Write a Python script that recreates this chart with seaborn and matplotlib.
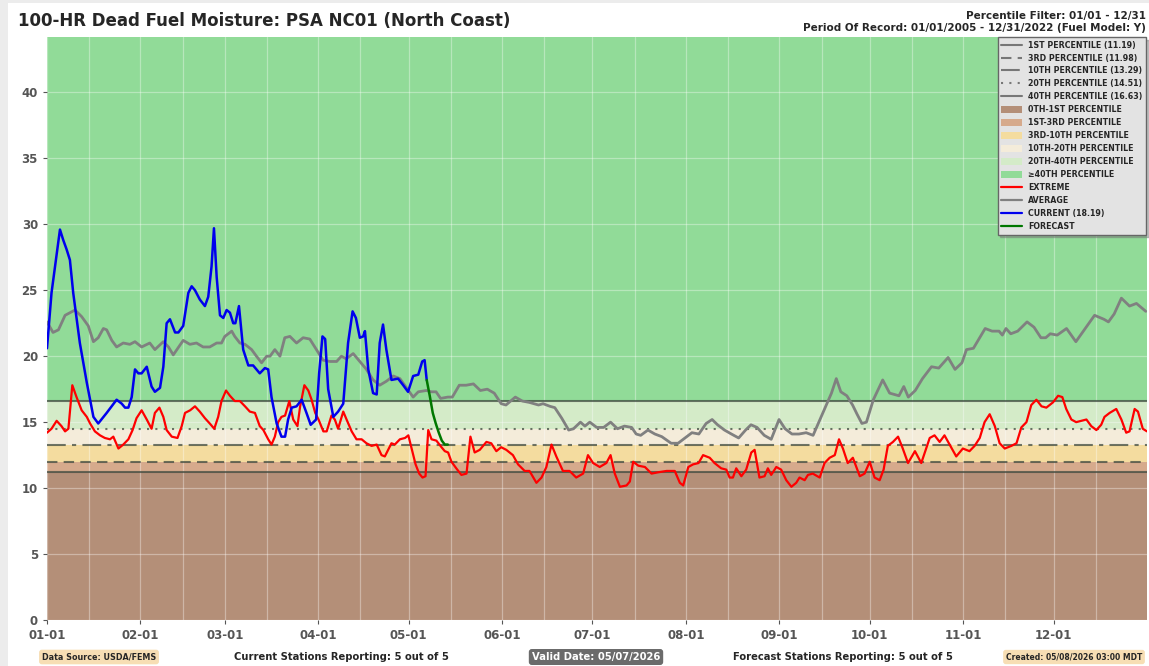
import matplotlib
matplotlib.use("Agg")
import matplotlib.pyplot as plt
from matplotlib.lines import Line2D
from matplotlib.patches import Patch, Rectangle
import seaborn as sns

# percentile thresholds (legend values)
pct_names = ["1ST", "3RD", "10TH", "20TH", "40TH"]
pct_vals = [11.19, 11.98, 13.29, 14.51, 16.63]

month_starts = [0, 31, 59, 90, 120, 151, 181, 212, 243, 273, 304, 334]
month_labels = ["01-01", "02-01", "03-01", "04-01", "05-01", "06-01",
                "07-01", "08-01", "09-01", "10-01", "11-01", "12-01"]

# average (gray)
avg_day = [0, 2, 3.8, 6, 9.3, 11.5, 13.7, 15.4, 17, 18.7, 19.8, 21.5, 23.1, 25.3, 27.5, 29.2,
           31.4, 34.1, 35.8, 38.6, 40.3, 41.9, 45.2, 47.4, 49.6, 51.8, 54, 56.3, 57.9, 59,
           61.3, 62.3, 64, 65.7, 67.9, 69.5, 71.2, 72.9, 74, 75.6, 77.3, 78.9, 80.6, 82.8,
           85, 87.2, 89.4, 91.6, 93.9, 96.1, 97.7, 99.3, 101.6, 103.8, 106, 108.2, 110.4,
           112.6, 114.9, 117.1, 119.3, 121.5, 123.2, 125.9, 127.5, 129.1, 130.6, 133, 134.5,
           136.8, 139.1, 141.5, 143.8, 146.1, 148.4, 150.7, 152.3, 155.4, 157.7, 160, 163.1,
           164.6, 166.9, 168.5, 170.8, 173.1, 174.7, 177, 178.5, 180.1, 182.4, 184.7, 187,
           189.3, 191.6, 194, 195.5, 197, 199.4, 201.7, 204, 207.1, 209.4, 211.7, 214, 216.3,
           218.7, 220.7, 222.5, 224.8, 227.1, 229.5, 231.8, 233.6, 235.6, 238, 240.3, 242.9,
           244.9, 247.2, 249.5, 251.9, 254.2, 256.5, 258.8, 260.3, 261.9, 263.4, 265.4, 267.3,
           268.8, 270.4, 271.9, 274.2, 277.3, 279.6, 282.7, 284.3, 285.8, 288.1, 290.5, 293.5,
           295.9, 299, 301.3, 303.6, 305.1, 307.4, 311.3, 313.6, 315.9, 317, 318.2, 319.8,
           322.1, 325.2, 327.5, 329.8, 331.4, 332.9, 335.2, 338.3, 341.4, 344.5, 347.6, 350.7,
           352.2, 354.1, 356.5, 359.2, 361.5, 364.6]
avg_val = [22.6, 21.8, 22.0, 23.1, 23.5, 23.0, 22.3, 21.1, 21.4, 22.1, 22.0, 21.2, 20.7, 21.0,
           20.9, 21.1, 20.7, 21.0, 20.5, 21.1, 20.7, 20.1, 21.2, 20.9, 21.0, 20.7, 20.7, 21.0,
           21.0, 21.5, 21.9, 21.5, 21.0, 20.9, 20.5, 20.0, 19.5, 20.0, 20.0, 20.5, 20.0, 21.4,
           21.5, 21.0, 21.4, 21.3, 20.5, 19.7, 19.6, 19.6, 20.0, 19.8, 20.2, 19.6, 19.0, 18.2,
           17.8, 18.1, 18.5, 18.3, 17.6, 16.9, 17.3, 17.4, 17.3, 17.3, 16.8, 16.9, 16.9, 17.8,
           17.8, 17.9, 17.4, 17.5, 17.2, 16.4, 16.3, 16.9, 16.6, 16.5, 16.3, 16.4, 16.2, 16.1,
           15.3, 14.4, 14.5, 15.0, 14.7, 15.0, 14.6, 14.6, 15.0, 14.5, 14.7, 14.6, 14.1, 14.0,
           14.4, 14.1, 13.9, 13.4, 13.4, 13.8, 14.2, 14.1, 14.9, 15.2, 14.8, 14.4, 14.1, 13.8,
           14.4, 14.8, 14.6, 14.0, 13.7, 15.2, 14.5, 14.1, 14.1, 14.2, 14.0, 15.2, 16.4, 17.2,
           18.3, 17.3, 17.0, 16.3, 15.6, 14.9, 15.0, 16.7, 18.2, 17.2, 17.0, 17.7, 16.9, 17.4,
           18.3, 19.2, 19.1, 19.9, 19.0, 19.5, 20.5, 20.6, 22.1, 21.9, 21.9, 21.6, 22.1, 21.7,
           21.9, 22.6, 22.2, 21.4, 21.4, 21.7, 21.6, 22.1, 21.1, 22.1, 23.1, 22.8, 22.6, 23.2,
           24.4, 23.8, 24.0, 23.4]

# extreme (red)
ext_day = [0, 1.5, 3.2, 4.8, 6, 7.1, 8.4, 9.8, 11.5, 13.2, 14.3, 15.9, 17.6, 19.2, 20.9, 22,
           23.7, 25.3, 27, 28.4, 29.7, 31.4, 33.1, 34.7, 35.8, 37.3, 38.6, 39.7, 41.4, 43.3,
           44.7, 45.8, 47.5, 49.1, 50.7, 52.4, 54, 55.5, 56.8, 57.9, 59.4, 60.7, 62.3, 64,
           65.7, 67.3, 69, 70.6, 71.8, 73.4, 74.5, 75.6, 76.7, 77.8, 79, 80.4, 81.7, 83.1, 84,
           85.4, 86.7, 87.8, 89, 90.1, 91.7, 92.8, 94.4, 95.5, 96.6, 98.3, 99.4, 101.1, 102.7,
           104.4, 106, 107.7, 109.4, 111, 112.1, 113.2, 114.3, 115.4, 117.1, 118.8, 119.9, 121,
           122.3, 123.5, 124.6, 125.6, 126.5, 127.6, 129.2, 130.9, 132, 133.1, 134.2, 135.8,
           137.5, 139.2, 140.5, 141.9, 143.6, 145.8, 147.4, 149.1, 150.7, 152.4, 154.6, 156.3,
           158.5, 160.1, 162.4, 164.1, 165.7, 167.4, 169, 171.2, 173.4, 175.6, 177.9, 179.5,
           181.2, 183.4, 185.6, 187, 188.4, 190.1, 192.3, 193.4, 194.5, 196.2, 198.4, 200.6,
           202.8, 205.6, 208.3, 210, 211.1, 212.8, 214.4, 216.2, 217.7, 219.9, 221.5, 223.7,
           225.4, 226.5, 227.6, 228.7, 230.4, 232, 233.7, 234.8, 236.4, 238.1, 239.2, 240.3,
           242, 243.6, 245.3, 247, 248.6, 249.7, 251.4, 252.5, 254.1, 256.4, 258, 259.7, 261.4,
           262.8, 264.1, 265.7, 267.4, 269.7, 271.3, 273, 274.6, 276.3, 277.6, 279, 280.7,
           282.4, 283.8, 285.7, 288, 290.1, 292.9, 294.5, 296.2, 297.8, 299.5, 301.7, 303.9,
           306.1, 307.8, 309.5, 311.1, 312.8, 314.5, 316.1, 317.8, 320, 321.7, 323.3, 325,
           326.6, 328.3, 330, 331.6, 333.8, 335.5, 336.9, 338.2, 339.9, 341.5, 343.2, 344.9,
           346.5, 348.2, 349.8, 350.9, 352.6, 354.8, 356.5, 358.1, 359.2, 360.9, 362, 363.6,
           365]
ext_val = [14.2, 14.5, 15.1, 14.7, 14.3, 14.5, 17.8, 16.9, 15.9, 15.4, 14.9, 14.3, 14.0, 13.8,
           13.7, 13.9, 13.0, 13.3, 13.7, 14.4, 15.3, 15.9, 15.2, 14.5, 15.7, 16.1, 15.4, 14.4,
           13.9, 13.8, 14.7, 15.7, 15.9, 16.2, 15.8, 15.3, 14.9, 14.5, 15.4, 16.6, 17.4, 17.0,
           16.6, 16.6, 16.2, 15.8, 15.7, 14.7, 14.4, 13.7, 13.3, 13.9, 15.0, 15.4, 15.5, 16.6,
           15.2, 14.7, 16.2, 17.8, 17.4, 16.7, 15.7, 15.2, 14.3, 14.3, 15.5, 15.2, 14.5, 15.8,
           15.2, 14.3, 13.7, 13.7, 13.4, 13.2, 13.3, 12.5, 12.4, 12.9, 13.4, 13.3, 13.7, 13.8,
           14.0, 13.0, 11.8, 11.1, 10.8, 10.9, 14.4, 13.7, 13.6, 13.1, 12.8, 12.7, 12.0, 11.5,
           11.0, 11.1, 13.9, 12.7, 12.9, 13.5, 13.4, 12.8, 13.1, 12.9, 12.5, 11.8, 11.3, 11.3,
           10.4, 10.8, 11.6, 13.3, 12.4, 11.3, 11.3, 10.8, 11.1, 12.5, 11.9, 11.6, 11.9, 12.5,
           11.1, 10.1, 10.2, 10.5, 12.0, 11.7, 11.6, 11.1, 11.2, 11.3, 11.3, 10.4, 10.2, 11.6,
           11.8, 11.9, 12.5, 12.3, 11.9, 11.5, 11.4, 10.8, 10.8, 11.5, 10.9, 11.4, 12.7, 12.9,
           10.8, 10.9, 11.5, 11.0, 11.6, 11.4, 10.6, 10.1, 10.4, 10.8, 10.6, 11.0, 11.1, 10.8,
           11.9, 12.3, 12.5, 13.7, 13.0, 11.9, 12.3, 10.9, 11.1, 12.0, 10.8, 10.6, 11.4, 13.2,
           13.5, 13.9, 13.1, 11.9, 12.8, 11.9, 13.8, 14.0, 13.5, 14.0, 13.3, 12.4, 13.0, 12.8,
           13.2, 13.8, 15.0, 15.6, 14.7, 13.4, 13.0, 13.2, 13.4, 14.6, 15.0, 16.3, 16.7, 16.2,
           16.1, 16.5, 17.0, 16.9, 16.0, 15.2, 15.0, 15.1, 15.2, 14.7, 14.4, 14.8, 15.4, 15.7,
           16.0, 15.2, 14.2, 14.3, 16.0, 15.8, 14.5, 14.3]

# current (blue)
cur_day = [0, 1.5, 4.3, 5.4, 6.5, 7.6, 8.7, 10.9, 13.2, 15.4, 17, 19.8, 23.1, 24.8, 25.9, 27,
           28.1, 29.2, 30.3, 31.4, 33.1, 34.7, 35.8, 37.5, 38.6, 39.7, 40.8, 42.5, 43.6, 45.2,
           46.9, 48, 49.1, 50.7, 52.4, 53.5, 54.6, 55.4, 56.3, 57.4, 58.5, 59.6, 60.7, 61.8,
           62.5, 63.7, 65.1, 66.8, 68.4, 69.5, 70.6, 72.3, 73.4, 74.5, 76.2, 77.8, 79, 80,
           81.2, 82.8, 84.5, 86.1, 87.5, 89.3, 90.3, 91.4, 92.3, 93.3, 95, 96.6, 98.3, 99.9,
           101.4, 102.5, 103.8, 104.9, 105.5, 106.6, 108.2, 109.4, 110.4, 111.5, 112.6, 114.3,
           116.5, 118.2, 119.8, 121.5, 123.2, 124.5, 125.3, 126]
cur_val = [20.6, 24.8, 29.6, 28.8, 28.1, 27.3, 24.8, 21.0, 18.0, 15.4, 14.9, 15.7, 16.7, 16.4,
           16.1, 16.1, 16.9, 19.0, 18.7, 18.7, 19.2, 17.7, 17.3, 17.6, 19.2, 22.5, 22.8, 21.8,
           21.8, 22.3, 24.8, 25.3, 25.0, 24.3, 23.8, 24.5, 26.8, 29.7, 26.0, 23.1, 22.9, 23.5,
           23.3, 22.5, 22.5, 23.8, 20.5, 19.3, 19.3, 19.0, 18.7, 19.1, 19.0, 16.9, 14.9, 13.9,
           13.9, 15.2, 16.1, 16.2, 16.7, 15.7, 14.8, 15.2, 18.7, 21.5, 21.3, 17.5, 15.4, 15.8,
           16.4, 21.0, 23.4, 22.9, 21.4, 21.5, 21.9, 19.0, 17.2, 17.1, 21.0, 22.4, 20.5, 18.2,
           18.3, 17.8, 17.3, 18.5, 18.6, 19.6, 19.7, 18.19]

# forecast (green)
fc_day = [126, 127, 128, 129, 130, 131, 132, 133]
fc_val = [18.19, 17.0, 15.7, 14.9, 14.2, 13.6, 13.3, 13.3]

band_colors = ["#b48f78", "#d6aa8c", "#f4dc9f", "#f4ecda", "#d4ebc8", "#91db98"]
band_labels = ["0TH-1ST PERCENTILE", "1ST-3RD PERCENTILE", "3RD-10TH PERCENTILE",
               "10TH-20TH PERCENTILE", "20TH-40TH PERCENTILE", "\u226540TH PERCENTILE"]
pct_styles = ["-", (0, (5, 3)), (0, (9, 3, 2, 3)), (0, (1, 3)), "-"]

sns.set_style("ticks")
plt.rcParams["font.family"] = ["DejaVu Sans"]

YMAX = 44.2
fig = plt.figure(figsize=(11.49, 6.66), dpi=100, facecolor="#ececec")
fig.patches.append(Rectangle((8 / 1149, 0), 1, 663 / 666, transform=fig.transFigure,
                             facecolor="white", edgecolor="none", zorder=-10))
ax = fig.add_axes([47 / 1149, 1 - 620 / 666, 1100 / 1149, (620 - 37) / 666])

# bands
edges = [0] + pct_vals + [YMAX]
for i, c in enumerate(band_colors):
    ax.axhspan(edges[i], edges[i + 1], color=c, lw=0, zorder=0.5)

ax.set_axisbelow("line")
ax.set_xticks(month_starts)
ax.set_xticks([m + 14 for m in month_starts], minor=True)
ax.grid(True, which="both", axis="x", color="white", alpha=0.35, lw=0.9)
ax.grid(True, which="major", axis="y", color="white", alpha=0.35, lw=0.9)

for v, ls in zip(pct_vals, pct_styles):
    ax.axhline(v, color="#3f4a3f", alpha=0.75, lw=1.5, ls=ls, zorder=2)

sns.lineplot(x=avg_day, y=avg_val, color="#808080", lw=2, ax=ax, sort=False, estimator=None, zorder=3)
sns.lineplot(x=ext_day, y=ext_val, color="#ff0000", lw=1.6, ax=ax, sort=False, estimator=None, zorder=4)
sns.lineplot(x=cur_day, y=cur_val, color="#0000ee", lw=1.8, ax=ax, sort=False, estimator=None, zorder=5)
sns.lineplot(x=fc_day, y=fc_val, color="#007700", lw=1.8, ax=ax, sort=False, estimator=None, zorder=5)

ax.set_xlim(0, 365)
ax.set_ylim(0, YMAX)
ax.set_yticks(range(0, 45, 5))
ax.set_xticklabels(month_labels)
ax.tick_params(axis="both", which="major", labelsize=8.5, labelcolor="#555555", length=3,
               color="#555555")
ax.tick_params(axis="x", which="minor", length=0)
for lab in ax.get_xticklabels() + ax.get_yticklabels():
    lab.set_fontweight("bold")
for s in ax.spines.values():
    s.set_visible(False)

# legend
handles = []
for n, v, ls in zip(pct_names, pct_vals, pct_styles):
    handles.append(Line2D([], [], color="#777777", lw=1.5, ls=ls, label=f"{n} PERCENTILE ({v:.2f})"))
for c, l in zip(band_colors, band_labels):
    handles.append(Patch(facecolor=c, edgecolor="none", label=l))
handles += [Line2D([], [], color="#ff0000", lw=1.6, label="EXTREME"),
            Line2D([], [], color="#808080", lw=1.6, label="AVERAGE"),
            Line2D([], [], color="#0000ee", lw=1.6, label=f"CURRENT ({cur_val[-1]:.2f})"),
            Line2D([], [], color="#007700", lw=1.6, label="FORECAST")]
leg = ax.legend(handles=handles, loc="upper right", bbox_to_anchor=(0.999, 1.0),
                prop={"size": 5.7, "weight": "bold"}, labelspacing=0.5, handlelength=2.6,
                handleheight=0.9, borderaxespad=0, frameon=True, fancybox=False,
                shadow={"color": "#777777", "alpha": 0.45},
                facecolor="#e3e3e3", edgecolor="#666666", framealpha=1, borderpad=0.45)
leg.set_zorder(10)

# titles
fig.text(18 / 1149, 1 - 21 / 666, "100-HR Dead Fuel Moisture: PSA NC01 (North Coast)",
         fontsize=12, fontweight="bold", va="center", ha="left")
fig.text(1146 / 1149, 1 - 16 / 666, "Percentile Filter: 01/01 - 12/31",
         fontsize=7.5, fontweight="bold", va="center", ha="right")
fig.text(1146 / 1149, 1 - 28 / 666,
         "Period Of Record: 01/01/2005 - 12/31/2022 (Fuel Model: Y)",
         fontsize=7.5, fontweight="bold", va="center", ha="right")

# footer
fy = 1 - 657 / 666
fig.text(99 / 1149, fy, "Data Source: USDA/FEMS", fontsize=5.8, fontweight="bold",
         ha="center", va="center",
         bbox=dict(boxstyle="round,pad=0.35", fc="#f7deb4", ec="none"))
fig.text(341 / 1149, fy, "Current Stations Reporting: 5 out of 5", fontsize=7.2,
         fontweight="bold", ha="center", va="center")
fig.text(596 / 1149, fy, "Valid Date: 05/07/2026", fontsize=7.2, fontweight="bold",
         color="white", ha="center", va="center",
         bbox=dict(boxstyle="round,pad=0.3", fc="#6b6b6b", ec="none"))
fig.text(843 / 1149, fy, "Forecast Stations Reporting: 5 out of 5", fontsize=7.2,
         fontweight="bold", ha="center", va="center")
fig.text(1074 / 1149, fy, "Created: 05/08/2026 03:00 MDT", fontsize=5.5, fontweight="bold",
         ha="center", va="center",
         bbox=dict(boxstyle="round,pad=0.35", fc="#f7deb4", ec="none"))

fig.savefig("out.png", dpi=100, facecolor=fig.get_facecolor())
